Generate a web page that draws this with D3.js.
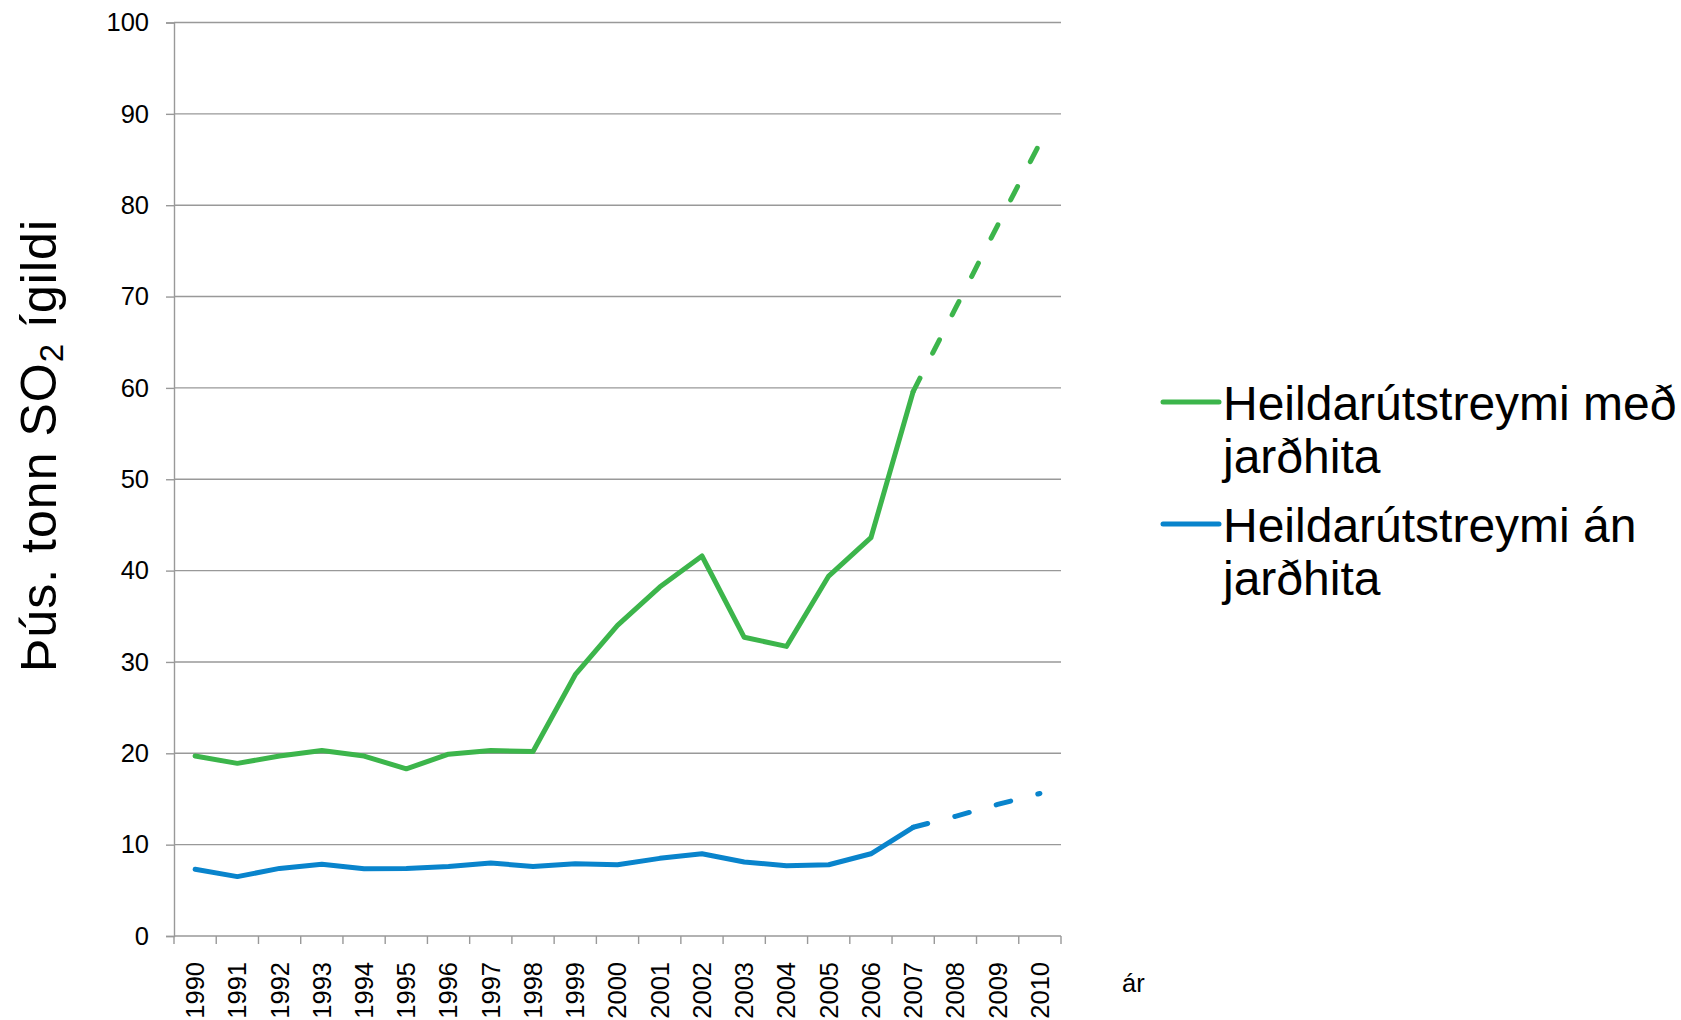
<!DOCTYPE html>
<html>
<head>
<meta charset="utf-8">
<script src="https://cdn.jsdelivr.net/npm/d3@7"></script>
<style>
    html, body { margin: 0; padding: 0; background: #fff; }
    svg { display: block; font-family: "Liberation Sans", Arial, sans-serif; }
</style>
</head>
<body>
<svg id="chart" width="1681" height="1020"></svg>
<script>
const years = ["1990", "1991", "1992", "1993", "1994", "1995", "1996", "1997", "1998", "1999", "2000",
    "2001", "2002", "2003", "2004", "2005", "2006", "2007", "2008", "2009", "2010"];
const withGeothermal = [19.7, 18.9, 19.7, 20.3, 19.7, 18.3, 19.9, 20.3, 20.2, 28.6, 34.0,
    38.2, 41.6, 32.7, 31.7, 39.4, 43.6, 59.6, 68.7, 77.8, 86.8];
const withoutGeothermal = [7.3, 6.5, 7.4, 7.85, 7.35, 7.4, 7.6, 8.0, 7.6, 7.9, 7.8,
    8.5, 9.0, 8.1, 7.7, 7.8, 9.0, 11.9, 13.1, 14.4, 15.6];
const lastMeasuredYear = "2007"; // later years are projections, drawn dashed
const yTicks = [0, 10, 20, 30, 40, 50, 60, 70, 80, 90, 100];
const seriesNames = [["Heildarútstreymi með", "jarðhita"], ["Heildarútstreymi án", "jarðhita"]];
const xTitle = "ár";

const series = [
    { lines: seriesNames[0], values: withGeothermal, colour: "#3cb54b" },
    { lines: seriesNames[1], values: withoutGeothermal, colour: "#0984cc" }
];

const svg = d3.select("#chart");
const plot = { left: 174, right: 1061, top: 22.5, bottom: 936 };
const gridColour = "#999";

const x = d3.scaleBand().domain(years).range([plot.left, plot.right]);
const y = d3.scaleLinear().domain([0, 100]).range([plot.bottom, plot.top]);
const cx = d => x(d) + x.bandwidth() / 2;

// Horizontal gridlines
svg.append("g")
    .selectAll("line")
    .data(yTicks.filter(t => t > 0))
    .join("line")
    .attr("x1", plot.left)
    .attr("x2", plot.right)
    .attr("y1", d => y(d))
    .attr("y2", d => y(d))
    .attr("stroke", gridColour)
    .attr("stroke-width", 1.4);

// Y axis
const yAxis = svg.append("g")
    .attr("transform", `translate(${plot.left},0)`)
    .call(d3.axisLeft(y).tickValues(yTicks).tickSize(8).tickPadding(17));
yAxis.select(".domain").attr("stroke", gridColour).attr("stroke-width", 1.4);
yAxis.selectAll(".tick line").attr("stroke", gridColour).attr("stroke-width", 1.4);
yAxis.selectAll(".tick text")
    .attr("font-size", 25.5)
    .attr("font-family", "Liberation Sans, Arial, sans-serif")
    .attr("fill", "#000");

// X axis: ticks at band boundaries, labels rotated
const xAxis = svg.append("g").attr("transform", `translate(0,${plot.bottom})`);
xAxis.append("line")
    .attr("x1", plot.left)
    .attr("x2", plot.right)
    .attr("stroke", gridColour)
    .attr("stroke-width", 1.4);
xAxis.selectAll(".xtick")
    .data(years.concat(["end"]))
    .join("line")
    .attr("class", "xtick")
    .attr("x1", (d, i) => plot.left + i * x.step())
    .attr("x2", (d, i) => plot.left + i * x.step())
    .attr("y1", 0)
    .attr("y2", 8)
    .attr("stroke", gridColour)
    .attr("stroke-width", 1.4);
xAxis.selectAll(".xlabel")
    .data(years)
    .join("text")
    .attr("class", "xlabel")
    .attr("transform", d => `translate(${cx(d)},26) rotate(-90)`)
    .attr("text-anchor", "end")
    .attr("dy", "0.35em")
    .attr("font-size", 25.5)
    .text(d => d);

svg.append("text")
    .attr("x", 1122)
    .attr("y", 992)
    .attr("font-size", 25.5)
    .text(xTitle);

// Y title with subscript
const yTitle = svg.append("text")
    .attr("transform", "translate(56,672) rotate(-90)")
    .attr("font-size", 50)
    .attr("textLength", 452)
    .attr("lengthAdjust", "spacing");
yTitle.append("tspan").text("Þús. tonn SO");
yTitle.append("tspan").attr("font-size", 33).attr("dy", 7).text("2");
yTitle.append("tspan").attr("dy", -7).text(" ígildi");

// Lines: solid up to last measured year, dashed after
const line = d3.line()
    .x(d => cx(d.year))
    .y(d => y(d.value));
const cut = years.indexOf(lastMeasuredYear);

series.forEach(s => {
    const pts = years.map((year, i) => ({ year, value: s.values[i] }));
    svg.append("path")
        .datum(pts.slice(0, cut + 1))
        .attr("d", line)
        .attr("fill", "none")
        .attr("stroke", s.colour)
        .attr("stroke-width", 5)
        .attr("stroke-linejoin", "round")
        .attr("stroke-linecap", "round");
    svg.append("path")
        .datum(pts.slice(cut))
        .attr("d", line)
        .attr("fill", "none")
        .attr("stroke", s.colour)
        .attr("stroke-width", 5)
        .attr("stroke-dasharray", "15 28")
        .attr("stroke-linecap", "round");
});

// Legend
const legend = svg.append("g").attr("transform", "translate(1163,402)");
series.forEach((s, i) => {
    const g = legend.append("g").attr("transform", `translate(0,${i * 122})`);
    g.append("line")
        .attr("x1", 0)
        .attr("x2", 56)
        .attr("stroke", s.colour)
        .attr("stroke-width", 5)
        .attr("stroke-linecap", "round");
    g.selectAll("text")
        .data(s.lines)
        .join("text")
        .attr("x", 60)
        .attr("y", (d, j) => 18 + j * 53)
        .attr("font-size", 48)
        .text(d => d);
});
</script>
</body>
</html>
